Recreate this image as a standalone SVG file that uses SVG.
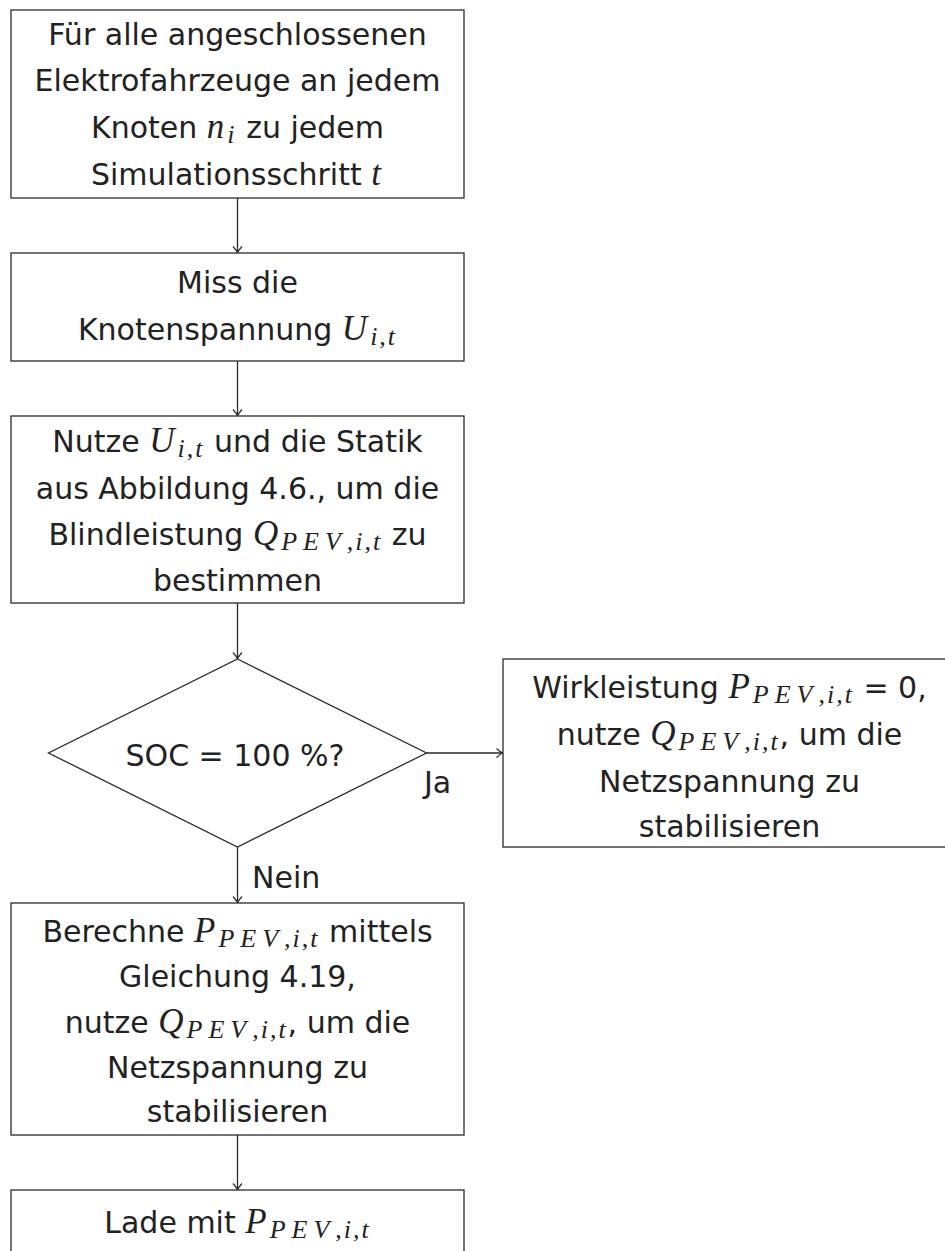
<svg xmlns="http://www.w3.org/2000/svg" width="945" height="1251" viewBox="0 0 945 1251">
<style>
.box{fill:#fff;stroke:#2a2a2a;stroke-width:1.3}
.t{font-family:"DejaVu Sans",sans-serif;font-size:30px;fill:#222;text-anchor:middle}
.m{font-family:"Liberation Serif",serif;font-style:italic;font-size:35px;letter-spacing:3px}
.s{font-family:"Liberation Serif",serif;font-style:italic;font-size:26px;letter-spacing:2px}
.w{letter-spacing:6px}
.c{stroke:#2a2a2a;stroke-width:1.3;fill:none}
</style>
<defs>
<marker id="ah" markerUnits="userSpaceOnUse" markerWidth="14" markerHeight="14" viewBox="-10 -7 12 14" refX="0" refY="0" orient="auto">
<path d="M-6,-4.5 Q-2,-1 0,0 Q-2,1 -6,4.5" fill="none" stroke="#2a2a2a" stroke-width="1.2"/>
</marker>
</defs>
<g id="connectors">
<line class="c" x1="237.5" y1="198" x2="237.5" y2="252.5" marker-end="url(#ah)"/>
<line class="c" x1="237.5" y1="361" x2="237.5" y2="415.5" marker-end="url(#ah)"/>
<line class="c" x1="237.5" y1="603" x2="237.5" y2="658.5" marker-end="url(#ah)"/>
<line class="c" x1="426.5" y1="753" x2="502.5" y2="753" marker-end="url(#ah)"/>
<line class="c" x1="237.5" y1="847" x2="237.5" y2="902.5" marker-end="url(#ah)"/>
<line class="c" x1="237.5" y1="1135" x2="237.5" y2="1189.5" marker-end="url(#ah)"/>
<text class="t" x="424" y="793" style="text-anchor:start">Ja</text>
<text class="t" x="252" y="888" style="text-anchor:start">Nein</text>
</g>
<g id="n1">
<rect class="box" x="11" y="10" width="453" height="188"/>
<text class="t" x="237.5" y="45">Für alle angeschlossenen</text>
<text class="t" x="237.5" y="91">Elektrofahrzeuge an jedem</text>
<text class="t" x="237.5" y="138">Knoten <tspan class="m">n</tspan><tspan class="s" dy="5">i</tspan><tspan dy="-5"> zu jedem</tspan></text>
<text class="t" x="237.5" y="185">Simulationsschritt <tspan class="m">t</tspan></text>
</g>
<g id="n2">
<rect class="box" x="11" y="253" width="453" height="108"/>
<text class="t" x="237.5" y="293">Miss die</text>
<text class="t" x="237.5" y="340">Knotenspannung <tspan class="m">U</tspan><tspan class="s" dy="5">i,t</tspan></text>
</g>
<g id="n3">
<rect class="box" x="11" y="416" width="453" height="187"/>
<text class="t" x="237.5" y="452">Nutze <tspan class="m">U</tspan><tspan class="s" dy="5">i,t</tspan><tspan dy="-5"> und die Statik</tspan></text>
<text class="t" x="237.5" y="499">aus Abbildung 4.6., um die</text>
<text class="t" x="237.5" y="545">Blindleistung <tspan class="m">Q</tspan><tspan class="s" dy="5"><tspan class="w">PEV</tspan>,i,t</tspan><tspan dy="-5"> zu</tspan></text>
<text class="t" x="237.5" y="591">bestimmen</text>
</g>
<g id="decision">
<polygon class="box" points="237.5,659 426.5,753 237.5,847 48.5,753"/>
<text class="t" x="235" y="766">SOC = 100 %?</text>
</g>
<g id="n4">
<rect class="box" x="503" y="659" width="453" height="188"/>
<text class="t" x="729.5" y="698">Wirkleistung <tspan class="m">P</tspan><tspan class="s" dy="5"><tspan class="w">PEV</tspan>,i,t</tspan><tspan dy="-5"> = 0,</tspan></text>
<text class="t" x="729.5" y="745">nutze <tspan class="m">Q</tspan><tspan class="s" dy="5"><tspan class="w">PEV</tspan>,i,t</tspan><tspan dy="-5">, um die</tspan></text>
<text class="t" x="729.5" y="792">Netzspannung zu</text>
<text class="t" x="729.5" y="837">stabilisieren</text>
</g>
<g id="n5">
<rect class="box" x="11" y="903" width="453" height="232"/>
<text class="t" x="237.5" y="942">Berechne <tspan class="m">P</tspan><tspan class="s" dy="5"><tspan class="w">PEV</tspan>,i,t</tspan><tspan dy="-5"> mittels</tspan></text>
<text class="t" x="237.5" y="987">Gleichung 4.19,</text>
<text class="t" x="237.5" y="1033">nutze <tspan class="m">Q</tspan><tspan class="s" dy="5"><tspan class="w">PEV</tspan>,i,t</tspan><tspan dy="-5">, um die</tspan></text>
<text class="t" x="237.5" y="1078">Netzspannung zu</text>
<text class="t" x="237.5" y="1122">stabilisieren</text>
</g>
<g id="n6">
<rect class="box" x="11" y="1190" width="453" height="80"/>
<text class="t" x="237.5" y="1233">Lade mit <tspan class="m">P</tspan><tspan class="s" dy="5"><tspan class="w">PEV</tspan>,i,t</tspan></text>
</g>
</svg>
